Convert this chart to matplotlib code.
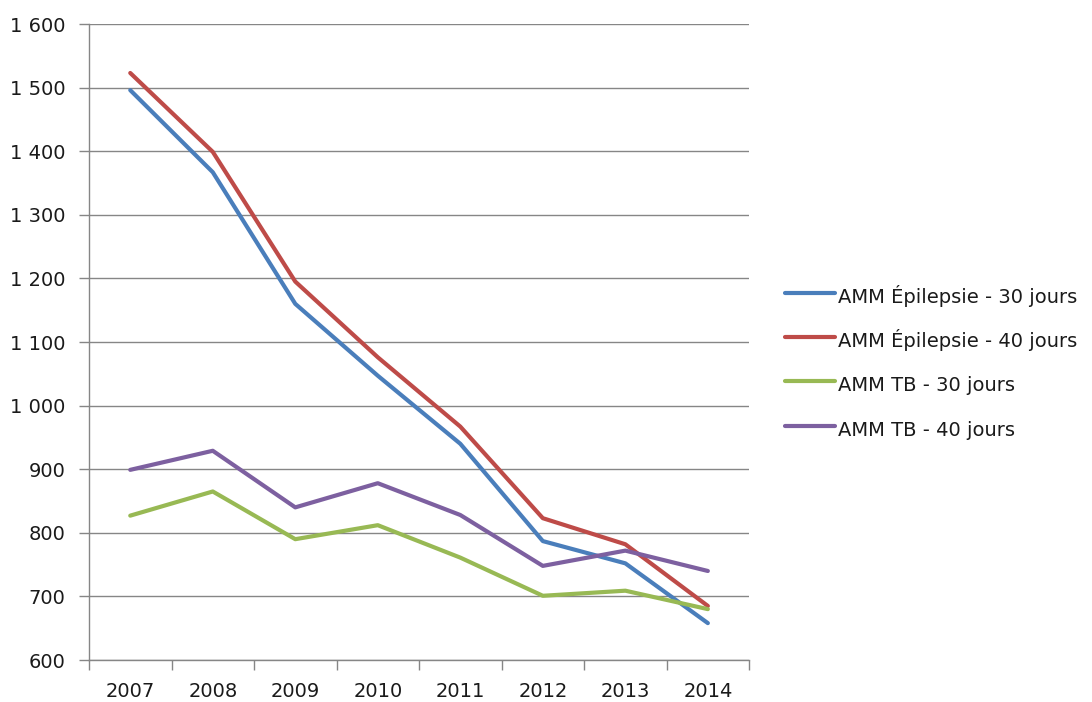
import numpy as np
import matplotlib
matplotlib.use("Agg")
import matplotlib.pyplot as plt
from matplotlib.ticker import FuncFormatter, FixedLocator

plt.rcParams['font.family'] = ['DejaVu Sans']

years = ['2007', '2008', '2009', '2010', '2011', '2012', '2013', '2014']
epi_30 = [1496, 1367, 1160, 1047, 940, 787, 752, 658]
epi_40 = [1523, 1399, 1195, 1076, 967, 823, 782, 685]
tb_30 = [827, 865, 790, 812, 761, 701, 709, 680]
tb_40 = [899, 929, 840, 878, 828, 748, 772, 740]

series = [
    ('AMM Épilepsie - 30 jours', epi_30, '#4A7EBB'),
    ('AMM Épilepsie - 40 jours', epi_40, '#BE4B48'),
    ('AMM TB - 30 jours', tb_30, '#98B954'),
    ('AMM TB - 40 jours', tb_40, '#7D60A0'),
]

fig = plt.figure(figsize=(10.92, 7.02), dpi=100)
ax = fig.add_axes([0.0815, 0.0598, 0.6045, 0.906])

x = np.arange(len(years))
for name, vals, col in series:
    ax.plot(x, vals, color=col, lw=3, label=name, solid_capstyle='round')

ax.set_xlim(-0.5, len(years) - 0.5)
ax.set_ylim(600, 1600)
ax.set_yticks(np.arange(600, 1601, 100))
ax.yaxis.set_major_formatter(FuncFormatter(lambda v, p: f"{int(v):,}".replace(',', ' ')))
ax.yaxis.grid(True, color='#868686', lw=1)
ax.set_axisbelow(True)

ax.set_xticks(x)
ax.set_xticklabels(years)
ax.xaxis.set_minor_locator(FixedLocator(np.arange(-0.5, len(years), 1)))
ax.tick_params(axis='x', which='major', length=0, pad=16, labelsize=14, labelcolor='#1a1a1a')
ax.tick_params(axis='x', which='minor', length=7, color='#868686', width=1)
ax.tick_params(axis='y', length=7, color='#868686', width=1, pad=10, labelsize=14, labelcolor='#1a1a1a')

for s in ['top', 'right']:
    ax.spines[s].set_visible(False)
for s in ['left', 'bottom']:
    ax.spines[s].set_color('#868686')
    ax.spines[s].set_linewidth(1)

leg = ax.legend(loc='center left', bbox_to_anchor=(1.0545, 0.467), frameon=False,
                fontsize=14, handlelength=2.57, handletextpad=0.15,
                handleheight=1.8, labelspacing=0.87, borderpad=0, borderaxespad=0)
for t in leg.get_texts():
    t.set_color('#1a1a1a')

fig.savefig('out.png', dpi=100)
